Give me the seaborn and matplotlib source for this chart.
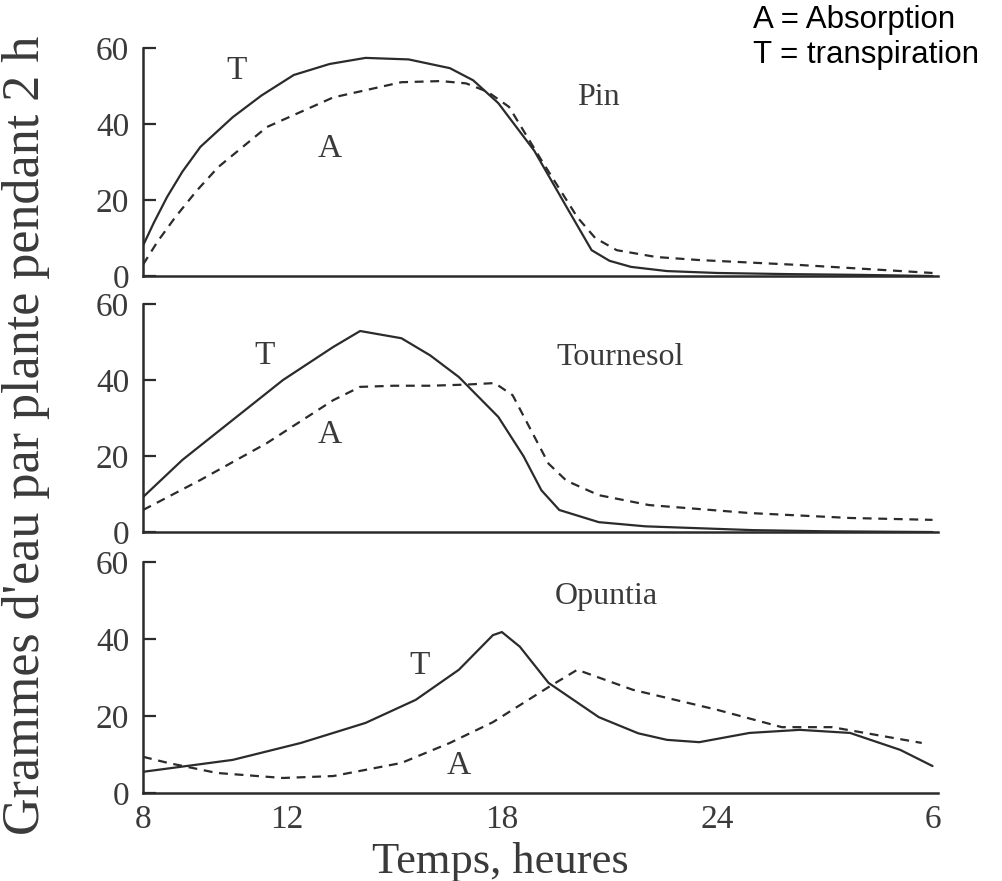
import matplotlib
matplotlib.use("Agg")
import matplotlib.pyplot as plt
import pandas as pd
import seaborn as sns

# hours (30 = 6 h next morning), grams of water per plant per 2 h
pin_t_x = [8, 8.3, 8.67, 9.1, 9.6, 10.5, 11.3, 12.2, 13.2, 14.2, 15.4, 16.55, 17.2, 17.9, 18.9, 19.8, 20.5, 21.0, 21.6, 22.6, 24, 26, 28, 30]
pin_t_y = [8, 14, 20.8, 27.5, 34, 41.8, 47.5, 52.9, 55.8, 57.4, 57, 54.7, 51.5, 45.5, 33, 18.2, 6.8, 4.0, 2.4, 1.3, 0.8, 0.5, 0.3, 0]
pin_a_x = [8, 8.4, 8.9, 9.5, 10.1, 11.45, 13.3, 15.2, 16.3, 17.0, 17.6, 18.2, 19.1, 20.1, 20.6, 21.2, 22.3, 23.5, 26.3, 28.6, 30]
pin_a_y = [3, 9, 15.5, 22.5, 28.7, 39.2, 47, 51, 51.3, 50.7, 48.5, 44.5, 30.5, 15.5, 10, 6.8, 5, 4.2, 2.9, 1.6, 0.8]

tou_t_x = [8, 9.1, 10.5, 11.9, 13.3, 14.05, 15.2, 16.0, 16.8, 17.9, 18.6, 19.1, 19.6, 20.7, 22, 23.5, 25, 27, 30]
tou_t_y = [9.2, 19, 29.5, 40, 48.7, 52.9, 51, 46.5, 40.8, 30.3, 20, 11, 5.8, 2.6, 1.5, 1, 0.5, 0.2, 0]
tou_a_x = [8, 9.6, 11.45, 13.3, 14.05, 15, 16, 17, 17.8, 18.3, 18.8, 19.3, 19.8, 20.7, 22.1, 24.9, 27.7, 30]
tou_a_y = [5.8, 13.7, 23.4, 34.7, 38.2, 38.5, 38.5, 38.8, 39.2, 36, 27, 18, 13.5, 9.7, 7.1, 5, 3.7, 3.2]

opu_t_x = [8, 10.5, 12.4, 14.2, 15.6, 16.8, 17.75, 18.0, 18.5, 19.3, 20.7, 21.8, 22.6, 23.5, 24.9, 26.3, 27.7, 29.1, 30]
opu_t_y = [5.5, 8.6, 13, 18.2, 24.2, 32, 41, 41.8, 38, 28.6, 19.7, 15.5, 13.8, 13.2, 15.6, 16.4, 15.6, 11.2, 7]
opu_a_x = [8, 8.7, 10.06, 11.9, 13.3, 15.2, 16.55, 17.75, 19.3, 20.1, 21.65, 24.0, 25.8, 27.2, 29.7]
opu_a_y = [9.4, 7.8, 5.2, 3.9, 4.4, 7.8, 13, 18.4, 27.5, 32, 26.8, 21.6, 17.1, 17.1, 13]

plant_names = ["Pin", "Tournesol", "Opuntia"]
xtick_pos = [8, 12, 18, 24, 30]
xtick_labels = ["8", "12", "18", "24", "6"]
ytick_pos = [0, 20, 40, 60]

# label positions (x, y) for T, A and plant name in each panel
t_pos = [(10.6, 54), (11.4, 46.5), (15.7, 33)]
a_pos = [(13.2, 33.5), (13.2, 25.5), (16.8, 7)]
name_pos = [(20.7, 47), (21.3, 45.8), (20.9, 51)]

sns.set_style("ticks")
plt.rcParams['font.family'] = ['Liberation Serif', 'DejaVu Serif']

ink = "#2b2b2b"
txt = "#3a3a3a"

fig = plt.figure(figsize=(10.03, 8.81), dpi=100)
boxes = [
    [0.1426, 0.6867, 0.7925, 0.2588],
    [0.1426, 0.3961, 0.7925, 0.2588],
    [0.1426, 0.0999, 0.7925, 0.2622],
]
curves = [
    (pin_t_x, pin_t_y, pin_a_x, pin_a_y),
    (tou_t_x, tou_t_y, tou_a_x, tou_a_y),
    (opu_t_x, opu_t_y, opu_a_x, opu_a_y),
]

for i, box in enumerate(boxes):
    ax = fig.add_axes(box)
    tx, ty, axx, ayy = curves[i]
    dt = pd.DataFrame({"h": tx, "g": ty})
    da = pd.DataFrame({"h": axx, "g": ayy})
    sns.lineplot(data=dt, x="h", y="g", ax=ax, color=ink, lw=1.6)
    sns.lineplot(data=da, x="h", y="g", ax=ax, color=ink, lw=1.6,
                 linestyle=(0, (4, 3)))

    ax.set_xlim(8, 30.15)
    ax.set_ylim(0, 60)
    for s in ["top", "right"]:
        ax.spines[s].set_visible(False)
    for s in ["left", "bottom"]:
        ax.spines[s].set_linewidth(1.8)
        ax.spines[s].set_color(ink)
    ax.set_xlabel("")
    ax.set_ylabel("")
    ax.set_yticks(ytick_pos)
    ax.set_yticklabels([str(v) for v in ytick_pos])
    ax.tick_params(axis="y", direction="in", length=9, width=1.6,
                   color=ink, labelsize=24, labelcolor=txt, pad=10)
    ax.set_xticks(xtick_pos)
    if i == 2:
        ax.set_xticklabels(xtick_labels)
    else:
        ax.set_xticklabels([])
    ax.tick_params(axis="x", length=0, labelsize=24, labelcolor=txt, pad=8)

    ax.text(*t_pos[i], "T", fontsize=24, color=txt, ha="center", va="center")
    ax.text(*a_pos[i], "A", fontsize=24, color=txt, ha="center", va="center")
    ax.text(*name_pos[i], plant_names[i], fontsize=23, color=txt,
            ha="center", va="center")

fig.text(0.4985, 0.022, "Temps, heures", fontsize=32, color=txt,
         ha="center", va="center")
fig.text(0.026, 0.506, "Grammes d'eau par plante pendant 2 h", fontsize=37.5,
         color=txt, rotation=90, ha="center", va="center")

fig.text(0.751, 0.994, "A = Absorption\nT = transpiration", fontsize=22.5,
         family="Liberation Sans", color="black", ha="left", va="top",
         linespacing=1.2)

fig.savefig("out.png", dpi=100, facecolor="white")
